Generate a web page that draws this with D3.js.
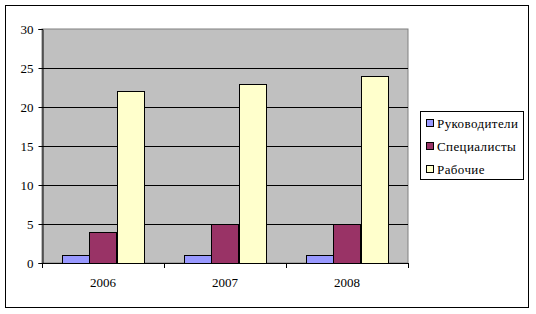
<!DOCTYPE html>
<html>
<head>
<meta charset="utf-8">
<script src="https://cdn.jsdelivr.net/npm/d3@7"></script>
<style>
  body { margin: 0; background: #fff; }
</style>
</head>
<body>
<div id="chart"></div>
<script>
// data
const years = ["2006", "2007", "2008"];
const seriesNames = ["Руководители", "Специалисты", "Рабочие"];
const managers = [1, 1, 1];
const specialists = [4, 5, 5];
const workers = [22, 23, 24];
const yTicks = [0, 5, 10, 15, 20, 25, 30];

const colors = ["#9999FF", "#993366", "#FFFFCC"];
const values = [managers, specialists, workers];
const serif = '"Liberation Serif", "DejaVu Serif", serif';

const svg = d3.select("#chart").append("svg")
  .attr("width", 536)
  .attr("height", 314);

// outer frame
svg.append("rect")
  .attr("x", 5.5).attr("y", 5.5)
  .attr("width", 523).attr("height", 302)
  .attr("fill", "#fff").attr("stroke", "#000");

const plot = {left: 42, top: 29, right: 408, bottom: 263};

const x = d3.scaleBand().domain(years).range([plot.left, plot.right]).paddingInner(0).paddingOuter(0);
const xs = d3.scaleBand().domain(d3.range(seriesNames.length)).range([0, x.bandwidth()]).paddingInner(0).paddingOuter(0.74);
const y = d3.scaleLinear().domain([0, 30]).range([plot.bottom, plot.top]);

// plot background
svg.append("rect")
  .attr("x", plot.left).attr("y", plot.top)
  .attr("width", plot.right - plot.left).attr("height", plot.bottom - plot.top)
  .attr("fill", "#C0C0C0").attr("stroke", "#808080");

// gridlines
svg.append("g").selectAll("line")
  .data(yTicks.filter(d => d > 0 && d < 30))
  .enter().append("line")
  .attr("x1", plot.left).attr("x2", plot.right)
  .attr("y1", d => Math.round(y(d)) + 0.5).attr("y2", d => Math.round(y(d)) + 0.5)
  .attr("stroke", "#000");

// bars
values.forEach((vals, si) => {
  svg.append("g").selectAll("rect")
    .data(vals)
    .enter().append("rect")
    .attr("x", (d, i) => Math.round(x(years[i]) + xs(si)) + 0.5)
    .attr("y", d => Math.round(y(d)) + 0.5)
    .attr("width", Math.round(xs.bandwidth()))
    .attr("height", d => Math.round(plot.bottom - y(d)))
    .attr("fill", colors[si])
    .attr("stroke", "#000");
});

// y axis
const yAxis = svg.append("g")
  .attr("transform", `translate(${plot.left + 0.5},0)`)
  .call(d3.axisLeft(y).tickValues(yTicks).tickSize(4).tickPadding(5));
yAxis.attr("font-family", serif).attr("font-size", 13);
yAxis.select(".domain").attr("stroke", "#000");

// x axis
const xAxis = svg.append("g")
  .attr("transform", `translate(0,${plot.bottom + 0.5})`)
  .call(d3.axisBottom(x).tickSize(0).tickPadding(14));
xAxis.attr("font-family", serif).attr("font-size", 13);
xAxis.select(".domain").attr("d", `M${plot.left},0H${plot.right}`).attr("stroke", "#000");
svg.append("g").selectAll("line")
  .data(years.concat(["end"]))
  .enter().append("line")
  .attr("x1", (d, i) => Math.round(plot.left + i * x.bandwidth()) + 0.5)
  .attr("x2", (d, i) => Math.round(plot.left + i * x.bandwidth()) + 0.5)
  .attr("y1", plot.bottom).attr("y2", plot.bottom + 5)
  .attr("stroke", "#000");

// legend
const legend = svg.append("g").attr("font-family", serif).attr("font-size", 13);
legend.append("rect")
  .attr("x", 420.5).attr("y", 111.5)
  .attr("width", 103).attr("height", 68)
  .attr("fill", "#fff").attr("stroke", "#000");
seriesNames.forEach((name, i) => {
  const ly = 124 + i * 23;
  legend.append("rect")
    .attr("x", 426.5).attr("y", ly - 4.5)
    .attr("width", 7).attr("height", 7)
    .attr("fill", colors[i]).attr("stroke", "#000");
  legend.append("text")
    .attr("x", 437).attr("y", ly + 4)
    .attr("letter-spacing", 0.4)
    .text(name);
});
</script>
</body>
</html>
